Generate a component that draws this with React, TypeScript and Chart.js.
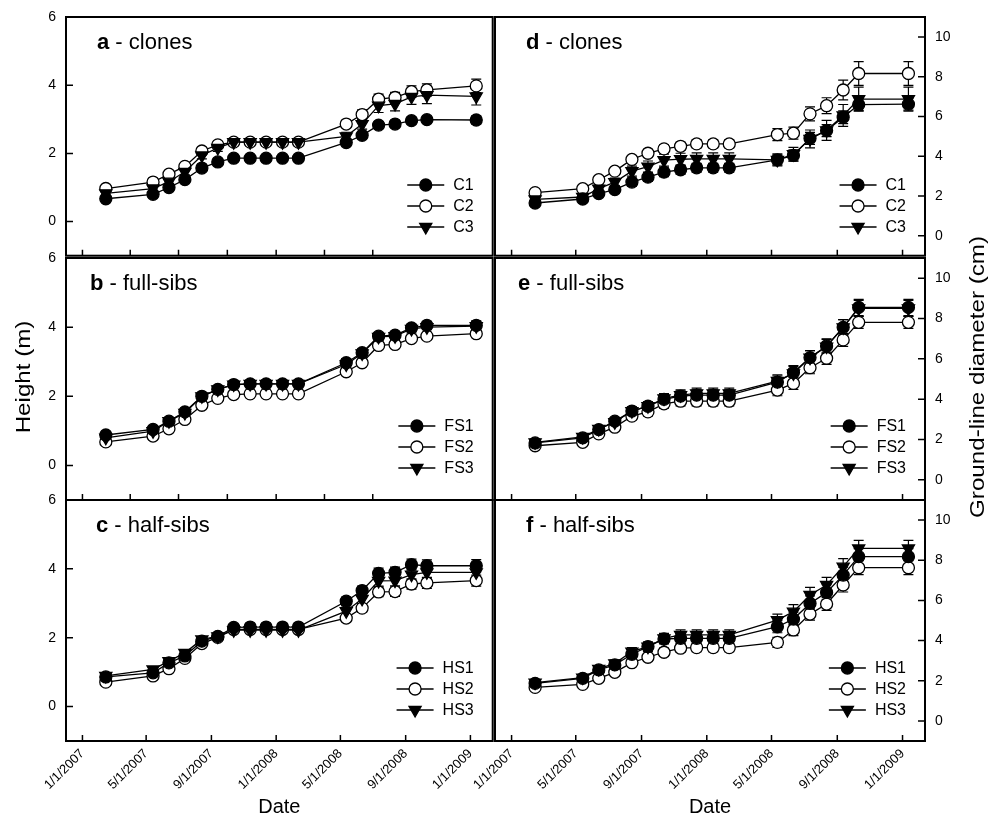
import React, { useEffect, useRef } from "react";
import { Chart, registerables } from "chart.js";
import { drawPoint } from "chart.js/helpers";

Chart.register(...registerables);

const FONT = '"Liberation Sans", Arial, Helvetica, sans-serif';

// ---------- DATA ----------
const sampleDates = [
  "2007-02-14", "2007-05-14", "2007-06-13", "2007-07-13", "2007-08-14", "2007-09-13",
  "2007-10-13", "2007-11-13", "2007-12-13", "2008-01-13", "2008-02-12", "2008-05-12",
  "2008-06-11", "2008-07-12", "2008-08-12", "2008-09-12", "2008-10-11", "2009-01-12",
];

const labeledTickDates = ["2007-01-01", "2007-05-01", "2007-09-01", "2008-01-01", "2008-05-01", "2008-09-01", "2009-01-01"];
const labeledTickLabels = ["1/1/2007", "5/1/2007", "9/1/2007", "1/1/2008", "5/1/2008", "9/1/2008", "1/1/2009"];
const quarterTickDates = ["2007-01-01", "2007-04-01", "2007-07-01", "2007-10-01", "2008-01-01", "2008-04-01", "2008-07-01", "2008-10-01", "2009-01-01"];

const heightTicks = [0, 2, 4, 6];
const diameterTicks = [0, 2, 4, 6, 8, 10];

const cloneLabels = ["C1", "C2", "C3"];
const fullSibLabels = ["FS1", "FS2", "FS3"];
const halfSibLabels = ["HS1", "HS2", "HS3"];

// a - clones, height (m)
const hC1 = [0.67, 0.80, 1.00, 1.23, 1.57, 1.75, 1.86, 1.86, 1.86, 1.86, 1.86, 2.32, 2.53, 2.83, 2.86, 2.96, 2.99, 2.98];
const hC2 = [0.97, 1.16, 1.39, 1.62, 2.07, 2.25, 2.33, 2.33, 2.33, 2.33, 2.33, 2.86, 3.14, 3.59, 3.64, 3.81, 3.86, 3.98];
const hC3 = [0.83, 0.97, 1.17, 1.46, 1.94, 2.16, 2.33, 2.33, 2.33, 2.33, 2.33, 2.50, 2.86, 3.40, 3.45, 3.66, 3.71, 3.67];
const hC1Err = [0.06, 0.06, 0.07, 0.07, 0.08, 0.08, 0.08, 0.08, 0.08, 0.08, 0.08, 0.10, 0.10, 0.10, 0.10, 0.10, 0.10, 0.12];
const hC2Err = [0.05, 0.05, 0.06, 0.07, 0.07, 0.08, 0.08, 0.08, 0.08, 0.08, 0.08, 0.10, 0.14, 0.15, 0.15, 0.17, 0.18, 0.20];
const hC3Err = [0.08, 0.08, 0.08, 0.09, 0.10, 0.10, 0.10, 0.10, 0.10, 0.10, 0.10, 0.12, 0.15, 0.20, 0.20, 0.22, 0.25, 0.25];

// b - full-sibs, height (m)
const hFS1 = [0.88, 1.04, 1.28, 1.55, 2.00, 2.20, 2.34, 2.36, 2.36, 2.36, 2.36, 2.97, 3.26, 3.74, 3.77, 3.98, 4.05, 4.05];
const hFS2 = [0.68, 0.85, 1.06, 1.33, 1.74, 1.94, 2.05, 2.07, 2.07, 2.07, 2.07, 2.71, 2.97, 3.47, 3.50, 3.67, 3.74, 3.81];
const hFS3 = [0.80, 0.99, 1.28, 1.52, 2.00, 2.20, 2.34, 2.36, 2.36, 2.36, 2.36, 2.92, 3.24, 3.72, 3.74, 3.95, 4.00, 4.03];
const hFS1Err = [0.05, 0.05, 0.06, 0.07, 0.07, 0.07, 0.07, 0.07, 0.07, 0.07, 0.07, 0.12, 0.10, 0.10, 0.10, 0.10, 0.12, 0.12];
const hFS2Err = [0.04, 0.04, 0.05, 0.05, 0.06, 0.06, 0.06, 0.06, 0.06, 0.06, 0.06, 0.08, 0.08, 0.08, 0.08, 0.08, 0.08, 0.08];
const hFS3Err = [0.05, 0.05, 0.06, 0.06, 0.07, 0.07, 0.07, 0.07, 0.07, 0.07, 0.07, 0.10, 0.10, 0.10, 0.10, 0.12, 0.15, 0.15];

// c - half-sibs, height (m)
const hHS1 = [0.86, 0.98, 1.27, 1.47, 1.90, 2.04, 2.30, 2.31, 2.31, 2.31, 2.31, 3.06, 3.37, 3.87, 3.90, 4.12, 4.09, 4.09];
const hHS2 = [0.71, 0.89, 1.10, 1.40, 1.83, 2.01, 2.24, 2.24, 2.24, 2.24, 2.24, 2.57, 2.86, 3.33, 3.34, 3.56, 3.59, 3.66];
const hHS3 = [0.89, 1.08, 1.32, 1.56, 1.95, 2.04, 2.22, 2.22, 2.22, 2.22, 2.22, 2.77, 3.13, 3.65, 3.66, 3.83, 3.90, 3.90];
const hHS1Err = [0.05, 0.05, 0.06, 0.07, 0.07, 0.08, 0.08, 0.08, 0.08, 0.08, 0.08, 0.12, 0.13, 0.15, 0.15, 0.16, 0.17, 0.18];
const hHS2Err = [0.05, 0.05, 0.06, 0.06, 0.07, 0.07, 0.07, 0.07, 0.07, 0.07, 0.07, 0.10, 0.12, 0.14, 0.14, 0.15, 0.16, 0.16];
const hHS3Err = [0.05, 0.05, 0.06, 0.06, 0.07, 0.07, 0.07, 0.07, 0.07, 0.07, 0.07, 0.12, 0.14, 0.15, 0.15, 0.16, 0.17, 0.17];

// d - clones, ground-line diameter (cm)
const dC1 = [1.65, 1.85, 2.12, 2.32, 2.70, 2.95, 3.20, 3.32, 3.42, 3.42, 3.42, 3.82, 4.04, 4.90, 5.29, 5.96, 6.59, 6.62];
const dC2 = [2.17, 2.37, 2.82, 3.25, 3.84, 4.15, 4.37, 4.50, 4.62, 4.62, 4.62, 5.09, 5.16, 6.13, 6.54, 7.33, 8.16, 8.16];
const dC3 = [1.83, 1.95, 2.37, 2.70, 3.25, 3.48, 3.80, 3.85, 3.87, 3.87, 3.87, 3.82, 4.10, 4.87, 5.30, 6.05, 6.87, 6.87];
const dC1Err = [0.12, 0.13, 0.15, 0.17, 0.20, 0.22, 0.22, 0.22, 0.22, 0.22, 0.22, 0.25, 0.28, 0.30, 0.30, 0.32, 0.30, 0.30];
const dC2Err = [0.10, 0.12, 0.13, 0.15, 0.18, 0.20, 0.20, 0.20, 0.20, 0.20, 0.20, 0.30, 0.30, 0.35, 0.40, 0.50, 0.60, 0.60];
const dC3Err = [0.12, 0.14, 0.18, 0.20, 0.25, 0.28, 0.30, 0.30, 0.30, 0.30, 0.30, 0.30, 0.35, 0.45, 0.50, 0.55, 0.60, 0.60];

// e - full-sibs, ground-line diameter (cm)
const dFS1 = [1.83, 2.08, 2.49, 2.91, 3.41, 3.65, 3.99, 4.15, 4.20, 4.20, 4.20, 4.85, 5.32, 6.06, 6.64, 7.56, 8.55, 8.55];
const dFS2 = [1.69, 1.86, 2.28, 2.61, 3.16, 3.37, 3.77, 3.90, 3.90, 3.90, 3.90, 4.45, 4.78, 5.56, 6.03, 6.94, 7.81, 7.81];
const dFS3 = [1.86, 2.13, 2.52, 2.86, 3.41, 3.65, 4.04, 4.20, 4.29, 4.29, 4.29, 4.90, 5.28, 6.06, 6.61, 7.56, 8.50, 8.50];
const dFS1Err = [0.10, 0.12, 0.14, 0.16, 0.20, 0.22, 0.24, 0.26, 0.26, 0.26, 0.26, 0.30, 0.35, 0.35, 0.35, 0.38, 0.40, 0.40];
const dFS2Err = [0.10, 0.10, 0.12, 0.14, 0.18, 0.20, 0.22, 0.24, 0.24, 0.24, 0.24, 0.28, 0.30, 0.30, 0.30, 0.32, 0.30, 0.30];
const dFS3Err = [0.10, 0.12, 0.14, 0.16, 0.20, 0.22, 0.24, 0.26, 0.26, 0.26, 0.26, 0.30, 0.35, 0.35, 0.35, 0.38, 0.40, 0.40];

// f - half-sibs, ground-line diameter (cm)
const dHS1 = [1.87, 2.12, 2.54, 2.79, 3.32, 3.70, 4.08, 4.11, 4.11, 4.11, 4.11, 4.69, 5.07, 5.85, 6.40, 7.26, 8.18, 8.18];
const dHS2 = [1.67, 1.82, 2.12, 2.42, 2.90, 3.17, 3.42, 3.62, 3.65, 3.65, 3.65, 3.91, 4.53, 5.32, 5.82, 6.77, 7.63, 7.63];
const dHS3 = [1.91, 2.16, 2.59, 2.87, 3.45, 3.70, 4.11, 4.28, 4.28, 4.28, 4.28, 5.02, 5.44, 6.27, 6.77, 7.68, 8.59, 8.59];
const dHS1Err = [0.10, 0.12, 0.14, 0.16, 0.20, 0.22, 0.25, 0.25, 0.25, 0.25, 0.25, 0.30, 0.35, 0.38, 0.38, 0.40, 0.40, 0.40];
const dHS2Err = [0.10, 0.10, 0.12, 0.14, 0.16, 0.18, 0.20, 0.20, 0.20, 0.20, 0.20, 0.25, 0.28, 0.30, 0.32, 0.35, 0.35, 0.35];
const dHS3Err = [0.10, 0.12, 0.14, 0.16, 0.20, 0.22, 0.25, 0.25, 0.25, 0.25, 0.25, 0.30, 0.35, 0.38, 0.38, 0.40, 0.40, 0.40];

// ---------- helpers ----------
const ORIGIN = Date.UTC(2007, 0, 1);
const dayOf = (s: string) =>
  (Date.UTC(+s.slice(0, 4), +s.slice(5, 7) - 1, +s.slice(8, 10)) - ORIGIN) / 86400000;

const X_MIN = -31;
const X_MAX = 773;

// ---------- panel layout ----------
const COLS = [[66, 495], [495, 925]];
const ROWS = [[17, 258], [258, 500], [500, 741]];

type Spec = {
  letter: string; name: string; col: number; row: number; labelDx: number;
  labels: string[]; series: number[][]; errors: number[][];
  xTicks: string[]; yMin: number; yMax: number; yTicks: number[];
};

const specs: Spec[] = [
  { letter: "a", name: "clones", col: 0, row: 0, labelDx: 31, labels: cloneLabels, series: [hC1, hC2, hC3], errors: [hC1Err, hC2Err, hC3Err], xTicks: quarterTickDates, yMin: -1, yMax: 6, yTicks: heightTicks },
  { letter: "b", name: "full-sibs", col: 0, row: 1, labelDx: 24, labels: fullSibLabels, series: [hFS1, hFS2, hFS3], errors: [hFS1Err, hFS2Err, hFS3Err], xTicks: quarterTickDates, yMin: -1, yMax: 6, yTicks: heightTicks },
  { letter: "c", name: "half-sibs", col: 0, row: 2, labelDx: 30, labels: halfSibLabels, series: [hHS1, hHS2, hHS3], errors: [hHS1Err, hHS2Err, hHS3Err], xTicks: labeledTickDates, yMin: -1, yMax: 6, yTicks: heightTicks },
  { letter: "d", name: "clones", col: 1, row: 0, labelDx: 31, labels: cloneLabels, series: [dC1, dC2, dC3], errors: [dC1Err, dC2Err, dC3Err], xTicks: labeledTickDates, yMin: -1, yMax: 11, yTicks: diameterTicks },
  { letter: "e", name: "full-sibs", col: 1, row: 1, labelDx: 23, labels: fullSibLabels, series: [dFS1, dFS2, dFS3], errors: [dFS1Err, dFS2Err, dFS3Err], xTicks: labeledTickDates, yMin: -1, yMax: 11, yTicks: diameterTicks },
  { letter: "f", name: "half-sibs", col: 1, row: 2, labelDx: 31, labels: halfSibLabels, series: [dHS1, dHS2, dHS3], errors: [dHS1Err, dHS2Err, dHS3Err], xTicks: labeledTickDates, yMin: -1, yMax: 11, yTicks: diameterTicks },
];

// marker styles: filled circle, open circle, filled down-triangle
const markerStyles = [
  { pointStyle: "circle", radius: 6, rotation: 0, fill: "#000", order: 1 },
  { pointStyle: "circle", radius: 6, rotation: 0, fill: "#fff", order: 2 },
  { pointStyle: "triangle", radius: 7, rotation: 180, fill: "#000", order: 0 },
];

function geometry(s: Spec) {
  const [x0, x1] = COLS[s.col];
  const [y0, y1] = ROWS[s.row];
  const L = s.col === 0 ? 66 : 40;
  const R = s.col === 0 ? 6 : 70;
  const T = s.row === 1 ? 40 : 12;
  const B = s.row === 2 ? 78 : s.row === 1 ? 40 : 6;
  return {
    left: x0 - L, top: y0 - T, width: x1 - x0 + L + R, height: y1 - y0 + T + B,
    padding: {
      left: s.col === 0 ? 0 : L,
      right: s.col === 0 ? R : 0,
      top: T,
      bottom: s.row === 2 ? 0 : B,
    },
    yWidth: s.col === 0 ? L : R,
    xHeight: s.row === 2 ? B : 0,
  };
}

function makePlugin(s: Spec) {
  return {
    id: "panelDeco" + s.letter,
    beforeDatasetsDraw(chart: any) {
      const ctx = chart.ctx;
      const ys = chart.scales.y;
      ctx.save();
      ctx.strokeStyle = "#000";
      ctx.lineWidth = 1.2;
      chart.data.datasets.forEach((ds: any, i: number) => {
        const meta = chart.getDatasetMeta(i);
        meta.data.forEach((el: any, j: number) => {
          const v = ds.data[j].y;
          const e = ds.errors[j];
          const x = el.x;
          const y1 = ys.getPixelForValue(v + e);
          const y2 = ys.getPixelForValue(v - e);
          ctx.beginPath();
          ctx.moveTo(x, y1); ctx.lineTo(x, y2);
          ctx.moveTo(x - 5, y1); ctx.lineTo(x + 5, y1);
          ctx.moveTo(x - 5, y2); ctx.lineTo(x + 5, y2);
          ctx.stroke();
        });
      });
      ctx.restore();
    },
    afterDraw(chart: any) {
      const ctx = chart.ctx;
      const { left, right, top, bottom } = chart.chartArea;
      const xs = chart.scales.x;
      const ys = chart.scales.y;
      ctx.save();
      ctx.strokeStyle = "#000";
      ctx.fillStyle = "#000";
      // frame
      ctx.lineWidth = 2;
      ctx.strokeRect(left, top, right - left, bottom - top);
      // inward x ticks
      ctx.lineWidth = 1.5;
      ctx.beginPath();
      xs.ticks.forEach((t: any) => {
        const px = xs.getPixelForValue(t.value);
        ctx.moveTo(px, bottom);
        ctx.lineTo(px, bottom - 6);
      });
      // inward y ticks
      ys.ticks.forEach((t: any) => {
        const py = ys.getPixelForValue(t.value);
        if (s.col === 0) { ctx.moveTo(left, py); ctx.lineTo(left + 7, py); }
        else { ctx.moveTo(right, py); ctx.lineTo(right - 7, py); }
      });
      ctx.stroke();

      // panel label
      ctx.textBaseline = "alphabetic";
      ctx.textAlign = "left";
      ctx.font = `bold 22px ${FONT}`;
      const lx = left + s.labelDx;
      const ly = top + 32;
      ctx.fillText(s.letter, lx, ly);
      const lw = ctx.measureText(s.letter).width;
      ctx.font = `22px ${FONT}`;
      ctx.fillText(" - " + s.name, lx + lw, ly);

      // legend
      ctx.font = `16px ${FONT}`;
      const maxW = Math.max(...s.labels.map((l) => ctx.measureText(l).width));
      const textX = right - 19 - maxW;
      s.labels.forEach((lab, i) => {
        const y = top + 168 + 21 * i;
        const m = markerStyles[i];
        ctx.strokeStyle = "#000";
        ctx.lineWidth = 1.3;
        ctx.beginPath();
        ctx.moveTo(textX - 46, y);
        ctx.lineTo(textX - 9, y);
        ctx.stroke();
        ctx.fillStyle = m.fill;
        ctx.lineWidth = 1.3;
        drawPoint(ctx, { pointStyle: m.pointStyle as any, radius: m.radius, rotation: m.rotation, borderWidth: 1.3 } as any, textX - 27.5, y);
        ctx.fillStyle = "#000";
        ctx.textBaseline = "middle";
        ctx.fillText(lab, textX, y + 1);
      });

      // shared y-axis titles (drawn on the middle row)
      if (s.row === 1) {
        ctx.font = `21px ${FONT}`;
        ctx.textAlign = "center";
        ctx.textBaseline = "middle";
        const cy = (top + bottom) / 2 - 2;
        const cx = s.col === 0 ? left - 42 : right + 53;
        const text = s.col === 0 ? "Height (m)" : "Ground-line diameter (cm)";
        ctx.translate(cx, cy);
        ctx.rotate(-Math.PI / 2);
        ctx.scale(1.15, 1);
        ctx.fillText(text, 0, 0);
      }
      ctx.restore();
    },
  };
}

function Panel({ spec }: { spec: Spec }) {
  const ref = useRef<HTMLCanvasElement | null>(null);
  const g = geometry(spec);

  useEffect(() => {
    if (!ref.current) return;
    const xTickValues = spec.xTicks.map(dayOf);
    const isBottom = spec.row === 2;
    const datasets = spec.series.map((vals, i) => {
      const m = markerStyles[i];
      return {
        label: spec.labels[i],
        data: sampleDates.map((d, j) => ({ x: dayOf(d), y: vals[j] })),
        errors: spec.errors[i],
        borderColor: "#000",
        borderWidth: 1.3,
        pointStyle: m.pointStyle,
        pointRadius: m.radius,
        pointRotation: m.rotation,
        pointBackgroundColor: m.fill,
        pointBorderColor: "#000",
        pointBorderWidth: 1.3,
        fill: false,
        tension: 0,
        order: m.order,
      };
    });

    const chart = new Chart(ref.current, {
      type: "line",
      data: { datasets: datasets as any },
      options: {
        animation: false,
        responsive: false,
        events: [],
        layout: { padding: g.padding },
        plugins: { legend: { display: false }, tooltip: { enabled: false } },
        scales: {
          x: {
            type: "linear",
            position: "bottom",
            min: X_MIN,
            max: X_MAX,
            grid: { display: false, drawTicks: false },
            border: { display: false },
            afterBuildTicks: (sc: any) => { sc.ticks = xTickValues.map((v) => ({ value: v })); },
            afterFit: (sc: any) => {
              sc.height = g.xHeight;
              sc.paddingLeft = 0; sc.paddingRight = 0; sc.paddingTop = 0; sc.paddingBottom = 0;
            },
            ticks: {
              display: isBottom,
              autoSkip: false,
              minRotation: 45,
              maxRotation: 45,
              padding: 5,
              color: "#000",
              font: { family: FONT, size: 13 },
              callback: (_v: any, idx: number) => labeledTickLabels[idx],
            },
            title: {
              display: isBottom,
              text: "Date",
              color: "#000",
              font: { family: FONT, size: 20 },
              padding: 0,
            },
          },
          y: {
            type: "linear",
            position: spec.col === 0 ? "left" : "right",
            min: spec.yMin,
            max: spec.yMax,
            grid: { display: false, drawTicks: false },
            border: { display: false },
            afterBuildTicks: (sc: any) => { sc.ticks = spec.yTicks.map((v) => ({ value: v })); },
            afterFit: (sc: any) => {
              sc.width = g.yWidth;
              sc.paddingTop = 0; sc.paddingBottom = 0; sc.paddingLeft = 0; sc.paddingRight = 0;
            },
            ticks: {
              padding: 10,
              color: "#000",
              font: { family: FONT, size: 14 },
              callback: (v: any) => String(v),
            },
          },
        },
      } as any,
      plugins: [makePlugin(spec)],
    });
    return () => chart.destroy();
  }, []);

  return (
    <canvas
      ref={ref}
      width={g.width}
      height={g.height}
      style={{ position: "absolute", left: g.left, top: g.top, width: g.width, height: g.height, display: "block" }}
    />
  );
}

export default function App() {
  return (
    <div style={{ position: "absolute", left: 0, top: 0, width: 1000, height: 820, overflow: "hidden", background: "#fff" }}>
      {specs.map((s) => (
        <Panel key={s.letter} spec={s} />
      ))}
    </div>
  );
}
